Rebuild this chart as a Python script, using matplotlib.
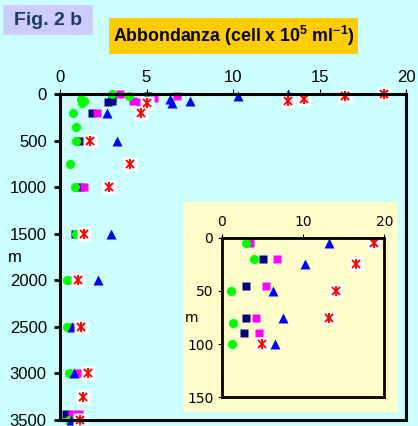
import numpy as np
import matplotlib
matplotlib.use("Agg")
import matplotlib.pyplot as plt
from matplotlib.patches import Rectangle

plt.rcParams['font.family'] = ['Liberation Sans', 'DejaVu Sans']
plt.rcParams['mathtext.fontset'] = 'custom'
plt.rcParams['mathtext.rm'] = 'Liberation Sans'
plt.rcParams['mathtext.bf'] = 'Liberation Sans:bold'

# abundance (10^5 cells/ml) vs depth (m), one list pair per series
depth_navy = [20, 45, 75, 90, 200, 500, 1000, 1500, 3440]
navy = [5.1, 3.0, 3.0, 2.75, 1.86, 1.18, 1.18, 0.84, 0.32]

depth_magenta = [5, 20, 45, 75, 90, 200, 1000, 2000, 2500, 3000, 3440, 3440]
magenta = [3.48, 6.76, 5.45, 4.2, 4.62, 2.15, 1.37, 0.66, 0.75, 1.05, 0.72, 1.12]

depth_green = [5, 20, 50, 80, 100, 200, 350, 500, 750, 1000, 1500, 2000, 2500, 3000, 3500]
green = [3.0, 4.0, 1.2, 1.4, 1.3, 0.76, 0.95, 0.95, 0.55, 0.88, 0.95, 0.41, 0.41, 0.51, 0.51]

depth_blue = [5, 25, 50, 75, 100, 200, 500, 1500, 2000, 2500, 3000, 3500]
blue = [13.2, 10.3, 6.35, 7.5, 6.5, 2.72, 3.28, 2.97, 2.18, 0.7, 0.8, 0.66]

depth_red = [5, 25, 50, 75, 100, 200, 500, 750, 1000, 1500, 2000, 2500, 3000, 3250, 3500]
red = [18.7, 16.5, 14.1, 13.2, 5.0, 4.7, 1.72, 4.07, 2.82, 1.41, 1.03, 1.24, 1.63, 1.34, 1.14]

main_xticks = [0, 5, 10, 15, 20]
main_yticks = [0, 500, 1000, 1500, 2000, 2500, 3000, 3500]
inset_xticks = [0, 10, 20]
inset_yticks = [0, 50, 100, 150]

W, H = 418, 426
fig = plt.figure(figsize=(W / 100, H / 100), dpi=100, facecolor='#CCFFFF')


def px_rect(x0, y0, x1, y1):
    # pixel box (top-left origin) -> figure fraction rect
    return [x0 / W, (H - y1) / H, (x1 - x0) / W, (y1 - y0) / H]


def draw_series(ax, clip):
    kw = dict(linestyle='none', clip_on=clip)
    ax.plot(navy, depth_navy, marker='s', ms=5.8, color='#000080', mec='none', **kw)
    ax.plot(magenta, depth_magenta, marker='s', ms=5.8, color='#FF00FF', mec='none', **kw)
    ax.plot(green, depth_green, marker='o', ms=6.6, color='#00FF00', mec='none', **kw)
    ax.plot(blue, depth_blue, marker='^', ms=6.8, color='#0000FF', mec='none', **kw)
    ax.plot(red, depth_red, marker='s', ms=9.5, color='white', mec='none', **kw)
    ax.plot(red, depth_red, marker='x', ms=6.0, mew=1.4, color='#FF0000', **kw)
    ax.plot(red, depth_red, marker='|', ms=6.8, mew=1.4, color='#FF0000', **kw)


def style_axes(ax, lw):
    for s in ax.spines.values():
        s.set_linewidth(lw)
        s.set_color('black')
    ax.xaxis.tick_top()
    ax.xaxis.set_label_position('top')


# main panel
ax = fig.add_axes(px_rect(60, 94, 406, 420))
ax.set_facecolor('#CCFFFF')
draw_series(ax, False)
ax.set_xlim(0, 20)
ax.set_ylim(3500, 0)
ax.set_xticks(main_xticks)
ax.set_yticks(main_yticks)
style_axes(ax, 2.2)
ax.tick_params(axis='x', direction='out', length=3.5, width=0.8, pad=3, labelsize=12)
ax.tick_params(axis='y', direction='out', length=4.5, width=2.0, pad=5, labelsize=12)
fig.text(15 / W, 1 - 258 / H, 'm', fontsize=12, ha='center', va='center')

# inset background and panel
bg = fig.add_axes(px_rect(183, 202, 398, 412))
bg.set_facecolor('#FFFFCC')
bg.set_xticks([])
bg.set_yticks([])
for s in bg.spines.values():
    s.set_visible(False)

axi = fig.add_axes(px_rect(221.7, 237.7, 384.3, 397.3))
axi.set_facecolor('#FFFFCC')
draw_series(axi, True)
axi.set_xlim(0, 20)
axi.set_ylim(150, 0)
axi.set_xticks(inset_xticks)
axi.set_yticks(inset_yticks)
style_axes(axi, 2.0)
axi.tick_params(axis='both', direction='out', length=3, width=0.8, pad=3, labelsize=10)
for lab in axi.get_xticklabels() + axi.get_yticklabels():
    lab.set_fontfamily('DejaVu Sans')
fig.text(192 / W, 1 - 318 / H, 'm', fontsize=10, ha='center', va='center', family='DejaVu Sans')

# header boxes
fig.patches.append(Rectangle((3 / W, 1 - 35 / H), 90 / W, 30 / H, transform=fig.transFigure,
                             facecolor='#CCCCFF', edgecolor='none', zorder=0))
fig.text(48 / W, 1 - 20.5 / H, 'Fig. 2 b', fontsize=14, fontweight='bold', color='#1F3864',
         ha='center', va='center')
fig.patches.append(Rectangle((109 / W, 1 - 54 / H), 249 / W, 36 / H, transform=fig.transFigure,
                             facecolor='#FFCC00', edgecolor='none', zorder=0))
fig.text(233.5 / W, 1 - 36 / H, r'Abbondanza (cell x 10$^{\mathbf{5}}$ ml$^{\mathbf{-1}}$)',
         fontsize=12.8, fontweight='bold', color='black', ha='center', va='center')

fig.savefig('out.png', dpi=100, facecolor=fig.get_facecolor())
